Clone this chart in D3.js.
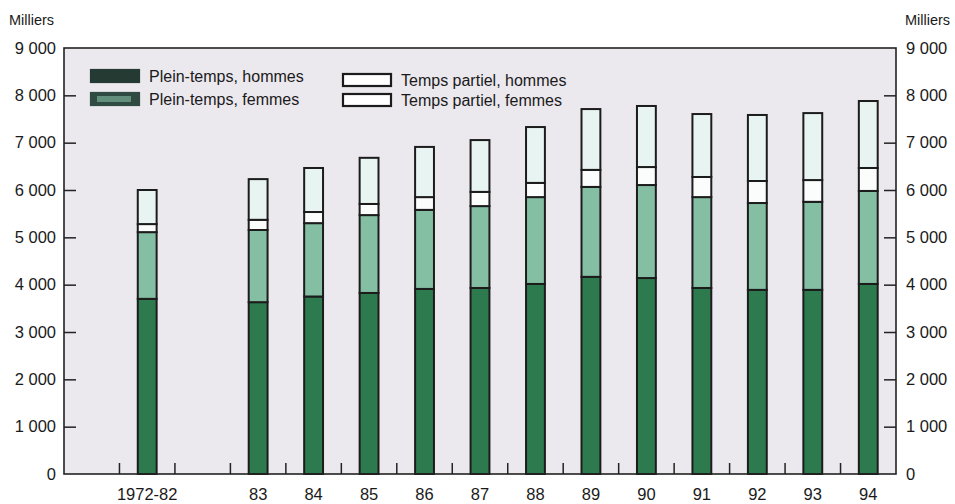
<!DOCTYPE html>
<html>
<head>
<meta charset="utf-8">
<script src="https://cdn.jsdelivr.net/npm/d3@7"></script>
<style>
  html, body { margin: 0; padding: 0; background: #ffffff; }
  svg { display: block; font-family: "Liberation Sans", Arial, Helvetica, sans-serif; }
</style>
</head>
<body>
<svg id="chart" width="955" height="504"></svg>
<script>
// Emploi selon le régime de travail et le sexe (milliers)
const categories = ["1972-82", "83", "84", "85", "86", "87", "88", "89", "90", "91", "92", "93", "94"];
const pleinTempsHommes   = [3700, 3630, 3750, 3825, 3910, 3930, 4015, 4165, 4140, 3930, 3890, 3890, 4015];
const pleinTempsFemmes   = [1410, 1525, 1550, 1645, 1670, 1730, 1835, 1900, 1965, 1920, 1835, 1860, 1965];
const partielHommes      = [170, 215, 235, 235, 270, 300, 300, 360, 380, 425, 465, 460, 485];
const partielFemmes      = [720, 860, 930, 975, 1060, 1095, 1180, 1285, 1290, 1330, 1395, 1415, 1415];
const yTicks = [0, 1000, 2000, 3000, 4000, 5000, 6000, 7000, 8000, 9000];
const seriesNames = ["Plein-temps, hommes", "Plein-temps, femmes", "Temps partiel, hommes", "Temps partiel, femmes"];
const seriesKeys = ["ptH", "ptF", "tpH", "tpF"];

const colors = { ptH: "#2e7a4f", ptF: "#84bea3", tpH: "#fbfdfc", tpF: "#e7f4f2" };

const svg = d3.select("#chart");
const margin = { left: 64, right: 59, top: 48, bottom: 30 };
const W = 955, H = 504;
const plotW = W - margin.left - margin.right;
const plotH = H - margin.top - margin.bottom;

// Slots: an empty slot before 1972-82 and one between 1972-82 and 83
const slots = ["_a", categories[0], "_b", ...categories.slice(1)];
const x = d3.scaleBand().domain(slots).range([margin.left, margin.left + plotW])
  .paddingInner(0.66).paddingOuter(0.33);
const y = d3.scaleLinear().domain([0, 9000]).range([margin.top + plotH, margin.top]);

const rows = categories.map((c, i) => ({
  cat: c, ptH: pleinTempsHommes[i], ptF: pleinTempsFemmes[i], tpH: partielHommes[i], tpF: partielFemmes[i]
}));
const stacked = d3.stack().keys(seriesKeys)(rows);

// Plot background
svg.append("rect")
  .attr("x", margin.left).attr("y", margin.top)
  .attr("width", plotW).attr("height", plotH)
  .attr("fill", "#ebe8ee");

// Bars
const g = svg.append("g");
stacked.forEach(layer => {
  g.selectAll(null).data(layer).enter().append("rect")
    .attr("x", d => x(d.data.cat))
    .attr("width", x.bandwidth())
    .attr("y", d => y(d[1]))
    .attr("height", d => y(d[0]) - y(d[1]))
    .attr("fill", colors[layer.key])
    .attr("stroke", "#1c1c1c")
    .attr("stroke-width", 2);
});

// Left and right axes (ticks pointing into the plot)
const leftAxis = d3.axisRight(y).tickValues(yTicks.slice(1, -1)).tickSize(12).tickFormat("");
const rightAxis = d3.axisLeft(y).tickValues(yTicks.slice(1, -1)).tickSize(12).tickFormat("");
svg.append("g").attr("transform", `translate(${margin.left},0)`).call(leftAxis)
  .call(s => s.select(".domain").remove())
  .selectAll("line").attr("stroke", "#222").attr("stroke-width", 1.5);
svg.append("g").attr("transform", `translate(${margin.left + plotW},0)`).call(rightAxis)
  .call(s => s.select(".domain").remove())
  .selectAll("line").attr("stroke", "#222").attr("stroke-width", 1.5);

const fmt = v => d3.format(",")(v).replace(/,/g, " ");
svg.append("g").selectAll("text").data(yTicks).enter().append("text")
  .attr("x", 56).attr("y", d => y(d)).attr("dy", "0.35em")
  .attr("text-anchor", "end").attr("font-size", 16.5).attr("fill", "#1a1a1a")
  .text(fmt);
svg.append("g").selectAll("text").data(yTicks).enter().append("text")
  .attr("x", 906).attr("y", d => y(d)).attr("dy", "0.35em")
  .attr("text-anchor", "start").attr("font-size", 16.5).attr("fill", "#1a1a1a")
  .text(fmt);

// Bottom tick marks at slot boundaries
const boundaries = d3.range(1, slots.length).map(k => margin.left + k * x.step());
svg.append("g").selectAll("line").data(boundaries).enter().append("line")
  .attr("x1", d => d).attr("x2", d => d)
  .attr("y1", y(0)).attr("y2", y(0) - 11)
  .attr("stroke", "#222").attr("stroke-width", 1.5);

// Category labels
svg.append("g").selectAll("text").data(categories).enter().append("text")
  .attr("x", d => x(d) + x.bandwidth() / 2).attr("y", 500)
  .attr("text-anchor", "middle").attr("font-size", 16.5).attr("fill", "#1a1a1a")
  .text(d => d);

// Frame
svg.append("rect")
  .attr("x", margin.left).attr("y", margin.top)
  .attr("width", plotW).attr("height", plotH)
  .attr("fill", "none").attr("stroke", "#222").attr("stroke-width", 1.6);

// Unit labels
svg.append("text").attr("x", 9).attr("y", 25).attr("font-size", 14.5).attr("fill", "#1a1a1a").text("Milliers");
svg.append("text").attr("x", 905).attr("y", 25).attr("font-size", 14.5).attr("fill", "#1a1a1a").text("Milliers");

// Legend
const legendItems = [
  { key: "ptH", label: seriesNames[0], x: 91, y: 70, fill: "#243a33", stroke: "#243a33" },
  { key: "ptF", label: seriesNames[1], x: 91, y: 93, fill: "#2f4b42", stroke: "#2f4b42" },
  { key: "tpH", label: seriesNames[2], x: 343, y: 74, fill: "#ffffff", stroke: "#1c1c1c" },
  { key: "tpF", label: seriesNames[3], x: 343, y: 94, fill: "#ffffff", stroke: "#1c1c1c" }
];
const lg = svg.append("g");
legendItems.forEach(it => {
  lg.append("rect").attr("x", it.x).attr("y", it.y).attr("width", 48).attr("height", 12)
    .attr("fill", it.fill).attr("stroke", it.stroke).attr("stroke-width", 2.2);
  if (it.key === "ptF") {
    lg.append("rect").attr("x", it.x + 6).attr("y", it.y + 3).attr("width", 34).attr("height", 6)
      .attr("fill", "#8cc7ad").attr("opacity", 0.55);
  }
  lg.append("text").attr("x", it.x + 58).attr("y", it.y + 6).attr("dy", "0.35em")
    .attr("font-size", 16).attr("fill", "#1a1a1a").text(it.label);
});
</script>
</body>
</html>
